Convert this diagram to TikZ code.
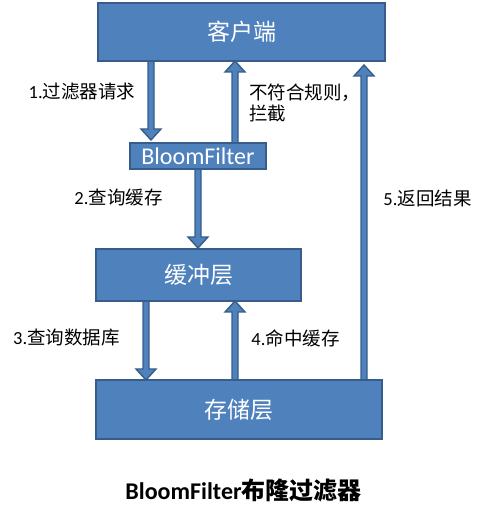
\documentclass[tikz,border=0pt]{standalone}
\usepackage{fontspec}
\setmainfont{Carlito}
\newfontfamily\cjk{Noto Sans CJK SC}
\usetikzlibrary{calc,backgrounds}
\definecolor{boxfill}{HTML}{4F81BD}
\definecolor{boxline}{HTML}{385D8A}
\tikzset{
  box/.style={draw=boxline, fill=boxfill, line width=2.4pt, text=white, inner sep=0pt, outer sep=0pt},
  boxtext/.style={font=\cjk\fontsize{23}{26}\selectfont},
  blk/.style={draw=boxline, fill=boxfill, line width=1.4pt, line join=miter},
  lbl/.style={text=black, inner sep=0pt, font=\fontsize{18.5}{21}\selectfont}
}
\newcommand\uparr[2]{\filldraw[blk] let \p1=(#1), \p2=(#2) in
  (\x1-3pt,\y1) -- (\x1-3pt,\y2-11pt) -- (\x1-10pt,\y2-11pt) -- (\x1,\y2) --
  (\x1+10pt,\y2-11pt) -- (\x1+3pt,\y2-11pt) -- (\x1+3pt,\y1) -- cycle;}
\newcommand\dnarr[2]{\filldraw[blk] let \p1=(#1), \p2=(#2) in
  (\x1-3pt,\y1) -- (\x1-3pt,\y2+11pt) -- (\x1-10pt,\y2+11pt) -- (\x1,\y2) --
  (\x1+10pt,\y2+11pt) -- (\x1+3pt,\y2+11pt) -- (\x1+3pt,\y1) -- cycle;}
\begin{document}
\begin{tikzpicture}[x=1pt,y=1pt]
\useasboundingbox (0,0) rectangle (486,518);
\node[box, boxtext, minimum width=287pt, minimum height=58pt] (kh) at (241.5,486) {客户端};
\node[box, font=\fontsize{24}{26}\selectfont, minimum width=136pt, minimum height=26pt] (bf) at (198,362) {BloomFilter};
\node[box, boxtext, minimum width=205pt, minimum height=52pt] (hc) at (198.5,243) {缓冲层};
\node[box, boxtext, minimum width=286pt, minimum height=59pt] (cc) at (239,108.5) {存储层};
\begin{scope}[on background layer]
\dnarr{[xshift=-90.5pt]kh.south}{[xshift=-47pt,yshift=3pt]bf.north}
\uparr{[xshift=37pt]bf.north}{[xshift=-6.5pt]kh.south}
\dnarr{bf.south}{[yshift=1pt]hc.north}
\dnarr{[xshift=-52.5pt]hc.south}{[xshift=-93pt]cc.north}
\uparr{[xshift=-4pt]cc.north}{[xshift=36.5pt]hc.south}
\uparr{[xshift=125pt]cc.north}{[xshift=122.5pt,yshift=-4pt]kh.south}
\end{scope}
\node[lbl] (l1) at (82,426) {1.{\cjk 过滤器请求}};
\node[lbl, anchor=west, align=left] (l0) at (249,415.5) {\cjk 不符合规则，\\\cjk 拦截};
\node[lbl] (l2) at (118.5,320) {2.{\cjk 查询缓存}};
\node[lbl] (l5) at (427.5,320) {5.{\cjk 返回结果}};
\node[lbl] (l3) at (66.5,180) {3.{\cjk 查询数据库}};
\node[lbl] (l4) at (295.5,180) {4.{\cjk 命中缓存}};
\node[inner sep=0pt, font=\bfseries\fontsize{24}{26}\selectfont] (title) at (243.5,28) {BloomFilter{\cjk\bfseries 布隆过滤器}};
\end{tikzpicture}
\end{document}
